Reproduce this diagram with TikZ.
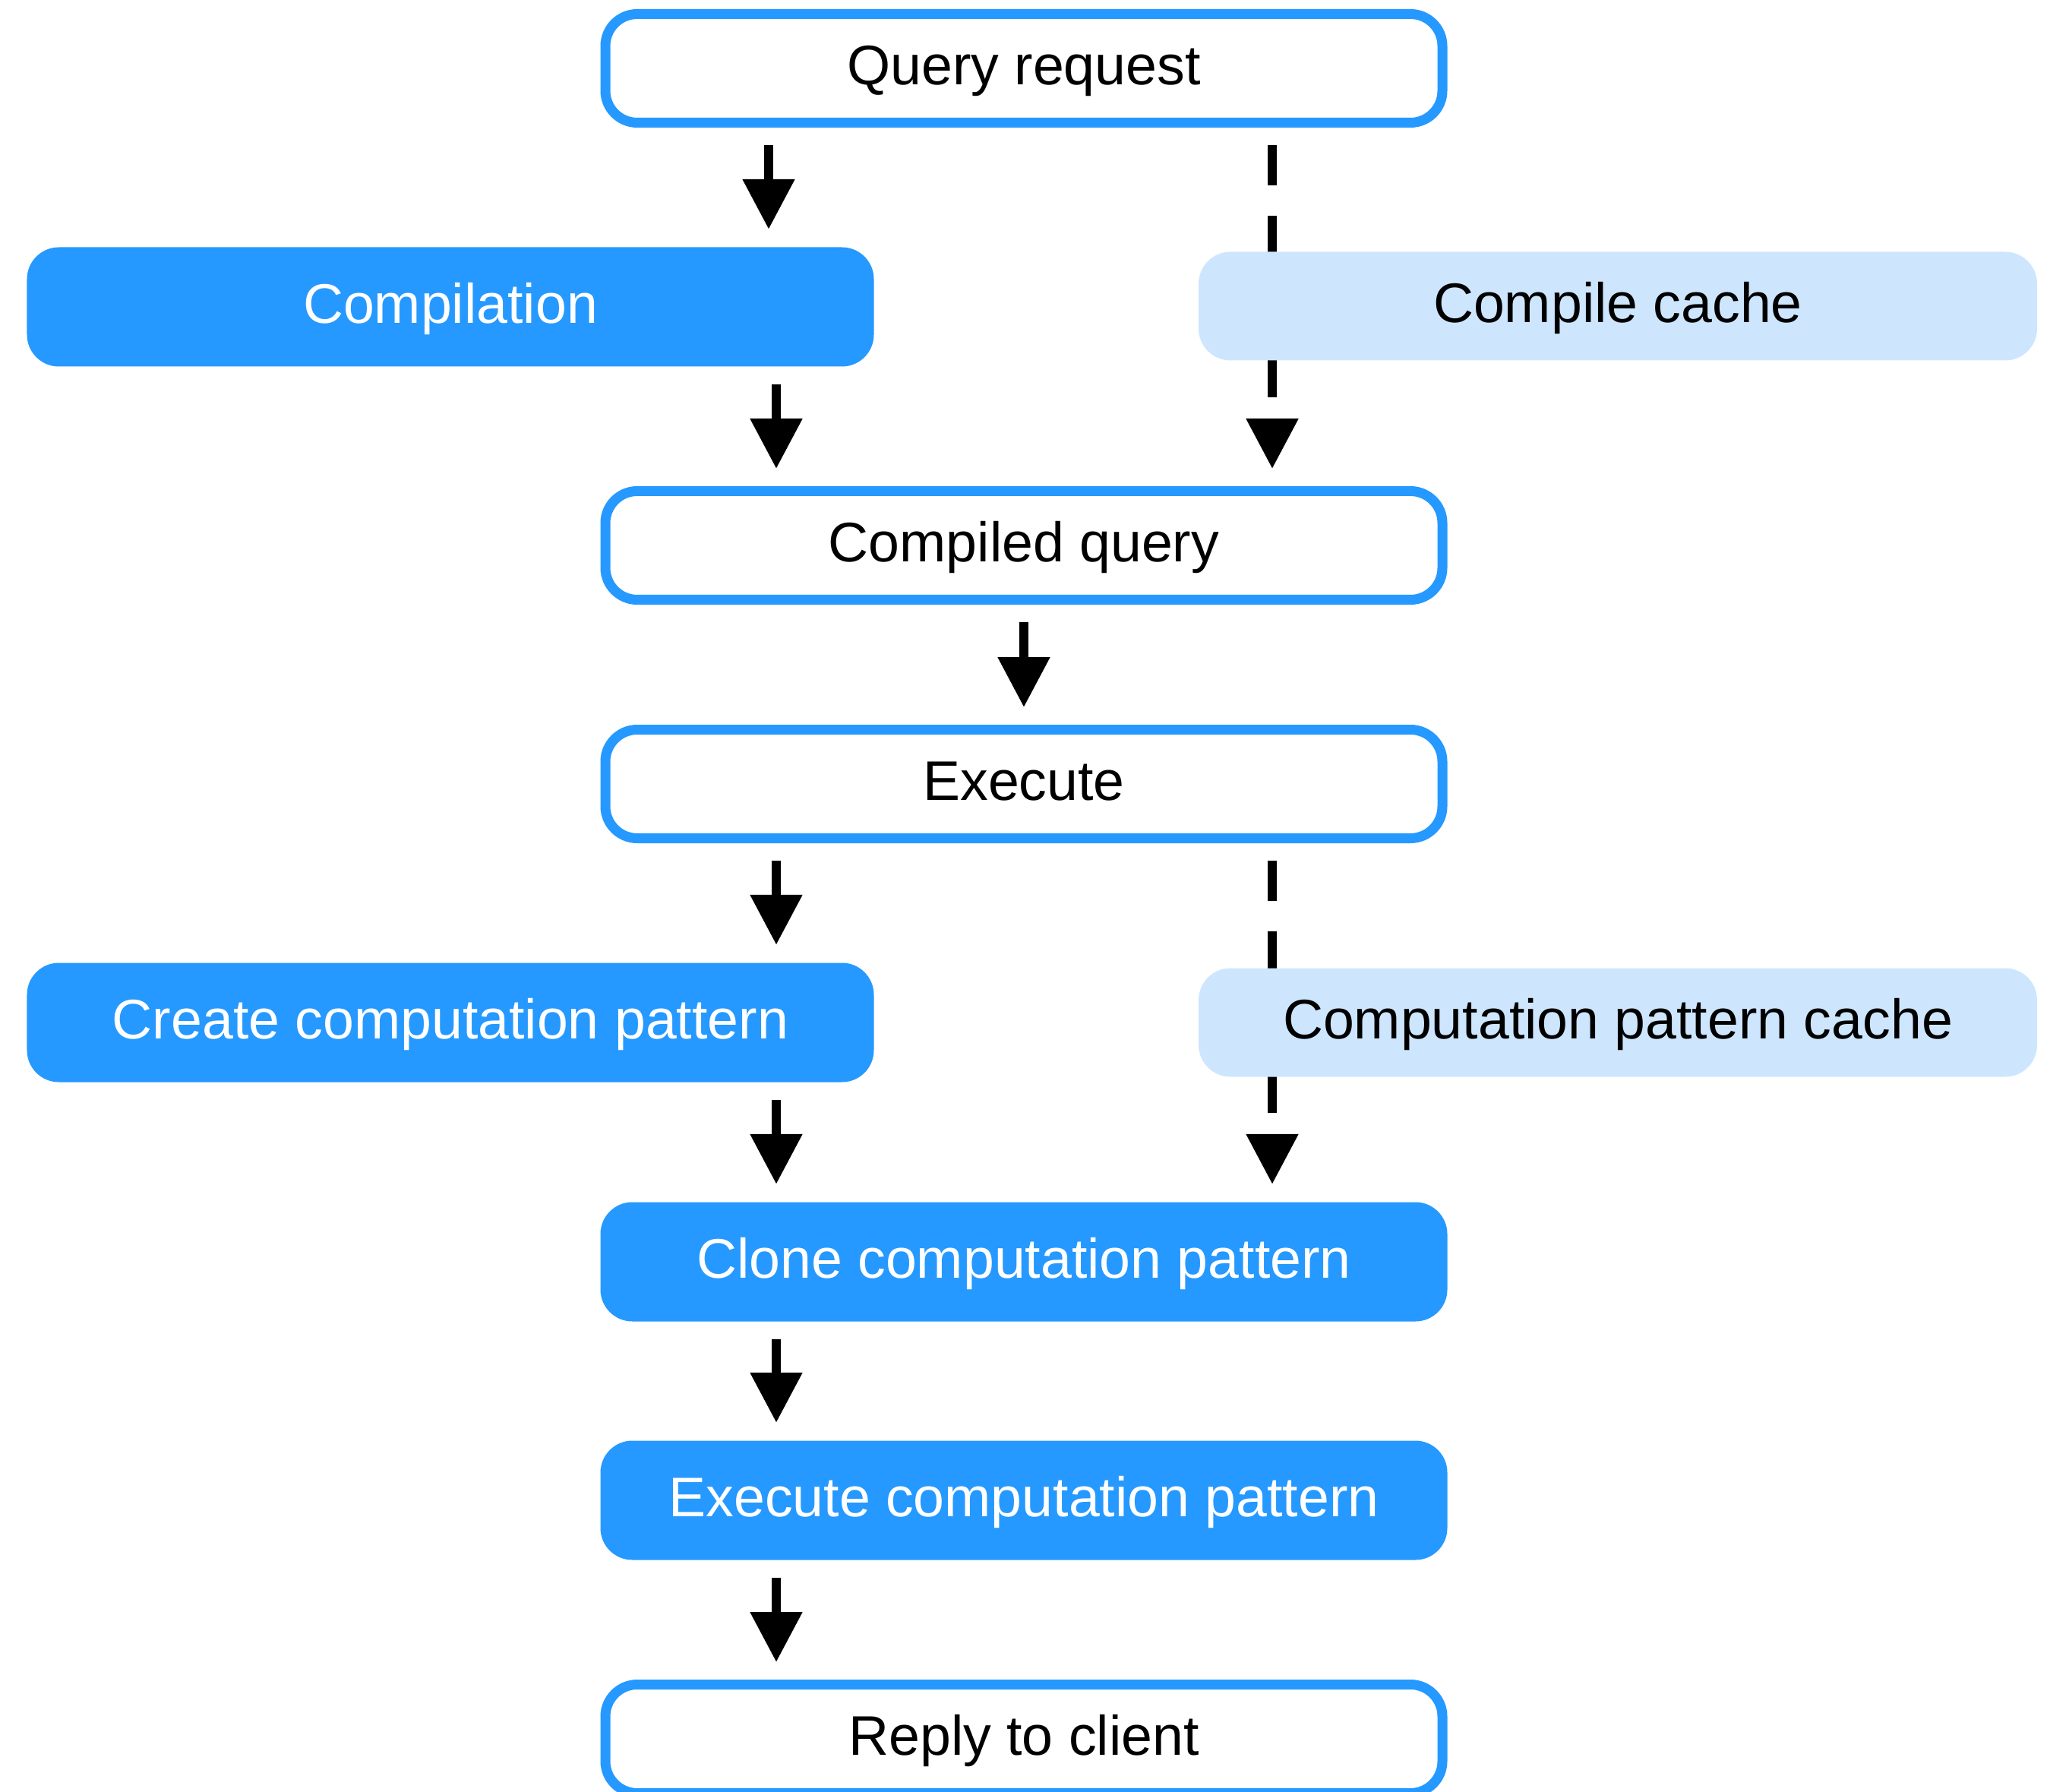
\documentclass[tikz,border=0pt]{standalone}
\usepackage{fontspec}
\setmainfont{Liberation Sans}
\usepackage{tikz}
\usetikzlibrary{arrows.meta, positioning}
\definecolor{stageblue}{RGB}{37,153,255}
\definecolor{cacheblue}{RGB}{205,230,254}

\begin{document}
\begin{tikzpicture}[font=\fontsize{20.9pt}{25pt}\selectfont]
    \tikzstyle{base} = [rectangle, rounded corners=0.42cm, inner sep=0pt, text height=1.35em, text depth=0.15em]
    \tikzstyle{plain} = [base, draw=stageblue, line width=0.13cm, fill=white, minimum width=11.02cm, minimum height=1.43cm]
    \tikzstyle{action} = [base, fill=stageblue, text=white, minimum width=11.15cm, minimum height=1.57cm]
    \tikzstyle{cache} = [base, fill=cacheblue, minimum width=11.04cm, minimum height=1.43cm]
    \tikzstyle{flow} = [draw, line width=0.12cm, -{Triangle[length=0.66cm, width=0.66cm]}, shorten <=0.23cm, shorten >=0.23cm]
    \tikzstyle{shortcut} = [flow, dash pattern=on 0.53cm off 0.4cm]

    \useasboundingbox (0,0) rectangle (26.99,-23.59);

    % Main column
    \node[plain] (qr) at (13.48,-0.90) {Query request};
    \node[action] (comp) at (5.93,-4.04) {Compilation};
    \node[plain] (cq) at (13.48,-7.18) {Compiled query};
    \node[plain] (ex) at (13.48,-10.32) {Execute};
    \node[action] (ccp) at (5.93,-13.46) {Create computation pattern};
    \node[action] (clone) at (13.48,-16.61) {Clone computation pattern};
    \node[action] (ecp) at (13.48,-19.75) {Execute computation pattern};
    \node[plain] (rc) at (13.48,-22.89) {Reply to client};

    % Arrow columns
    \coordinate (lfirst) at (10.12,0);
    \coordinate (lcol) at (10.22,0);
    \coordinate (rcol) at (16.75,0);

    % Normal path
    \draw[flow] (qr.south -| lfirst) -- (comp.north -| lfirst);
    \draw[flow] (comp.south -| lcol) -- (cq.north -| lcol);
    \draw[flow] (cq) -- (ex);
    \draw[flow] (ex.south -| lcol) -- (ccp.north -| lcol);
    \draw[flow] (ccp.south -| lcol) -- (clone.north -| lcol);
    \draw[flow] (clone.south -| lcol) -- (ecp.north -| lcol);
    \draw[flow] (ecp.south -| lcol) -- (rc.north -| lcol);

    % Cached path (runs behind the caches)
    \draw[shortcut] (qr.south -| rcol) -- (cq.north -| rcol);
    \draw[shortcut] (ex.south -| rcol) -- (clone.north -| rcol);

    % Caches
    \node[cache] (cc) at (21.30,-4.03) {Compile cache};
    \node[cache] (cpc) at (21.30,-13.46) {Computation pattern cache};
\end{tikzpicture}
\end{document}
